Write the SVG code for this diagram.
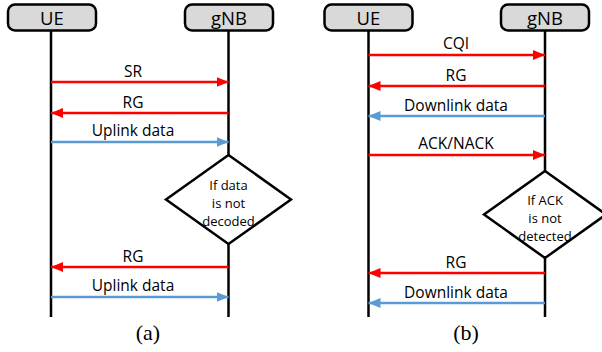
<svg xmlns="http://www.w3.org/2000/svg" width="602" height="352" viewBox="0 0 602 352">
<defs>
<marker id="ar" viewBox="0 0 12 10" refX="12" refY="5" markerWidth="12" markerHeight="10" markerUnits="userSpaceOnUse" orient="auto"><path d="M0,0 L12,5 L0,10 Z" fill="#FF0000"/></marker>
<marker id="ab" viewBox="0 0 12 10" refX="12" refY="5" markerWidth="12" markerHeight="10" markerUnits="userSpaceOnUse" orient="auto"><path d="M0,0 L12,5 L0,10 Z" fill="#5B9BD5"/></marker>
</defs>
<style>
.hdr rect{fill:#D9D9D9;stroke:#000;stroke-width:2.5}
.hdr text{font-family:"Open Sans","Noto Sans",sans-serif;font-size:18.5px;text-anchor:middle;fill:#000}
.life{stroke:#000;stroke-width:2.5}
.red{stroke:#FF0000;stroke-width:2.5;fill:none;marker-end:url(#ar)}
.blue{stroke:#5B9BD5;stroke-width:2.5;fill:none;marker-end:url(#ab)}
.lbl{font-family:"Open Sans","Noto Sans",sans-serif;font-size:15.5px;text-anchor:middle;fill:#000}
.dia polygon{fill:#fff;stroke:#000;stroke-width:2.5}
.dia text{font-family:"Open Sans","Noto Sans",sans-serif;font-size:13px;text-anchor:middle;fill:#000}
.cap{font-family:"Liberation Serif",serif;font-size:22px;text-anchor:middle;fill:#000}
</style>
<g id="lifelines">
<line class="life" x1="51" y1="31" x2="51" y2="317"/>
<line class="life" x1="228.5" y1="31" x2="228.5" y2="317"/>
<line class="life" x1="368.5" y1="31" x2="368.5" y2="317"/>
<line class="life" x1="545" y1="31" x2="545" y2="317"/>
</g>
<g id="ue-a" class="hdr"><rect x="8" y="4.5" width="88" height="26" rx="7"/><text x="52" y="24.5">UE</text></g>
<g id="gnb-a" class="hdr"><rect x="185" y="4.5" width="88" height="26" rx="7"/><text x="229" y="24.5">gNB</text></g>
<g id="ue-b" class="hdr"><rect x="324.5" y="4.5" width="88" height="26" rx="7"/><text x="368.5" y="24.5">UE</text></g>
<g id="gnb-b" class="hdr"><rect x="501" y="4.5" width="88" height="26" rx="7"/><text x="545" y="24.5">gNB</text></g>
<g id="dec-a" class="dia"><polygon points="228.5,155 291,199.5 228.5,244 166,199.5"/><text x="228.5" y="190">If data</text><text x="228.5" y="208">is not</text><text x="228.5" y="226">decoded</text></g>
<g id="dec-b" class="dia"><polygon points="545,171 606,214.5 545,258 484,214.5"/><text x="545" y="205">If ACK</text><text x="545" y="223">is not</text><text x="545" y="241">detected</text></g>
<g id="connectors">
<line class="red" x1="51" y1="82" x2="228.5" y2="82"/>
<line class="red" x1="228.5" y1="113" x2="51" y2="113"/>
<line class="blue" x1="51" y1="142" x2="228.5" y2="142"/>
<line class="red" x1="228.5" y1="267" x2="51" y2="267"/>
<line class="blue" x1="51" y1="297" x2="228.5" y2="297"/>
<line class="red" x1="368.5" y1="55" x2="545" y2="55"/>
<line class="red" x1="545" y1="86" x2="368.5" y2="86"/>
<line class="blue" x1="545" y1="116" x2="368.5" y2="116"/>
<line class="red" x1="368.5" y1="155" x2="545" y2="155"/>
<line class="red" x1="545" y1="273" x2="368.5" y2="273"/>
<line class="blue" x1="545" y1="303" x2="368.5" y2="303"/>
</g>
<g id="labels">
<text class="lbl" x="133" y="77">SR</text>
<text class="lbl" x="133" y="108">RG</text>
<text class="lbl" x="133" y="136">Uplink data</text>
<text class="lbl" x="133" y="262">RG</text>
<text class="lbl" x="133" y="291">Uplink data</text>
<text class="lbl" x="456" y="49">CQI</text>
<text class="lbl" x="456" y="81">RG</text>
<text class="lbl" x="456" y="111">Downlink data</text>
<text class="lbl" x="456" y="149">ACK/NACK</text>
<text class="lbl" x="456" y="268">RG</text>
<text class="lbl" x="456" y="298">Downlink data</text>
<text class="cap" x="148" y="340">(a)</text>
<text class="cap" x="466" y="340">(b)</text>
</g>
</svg>
